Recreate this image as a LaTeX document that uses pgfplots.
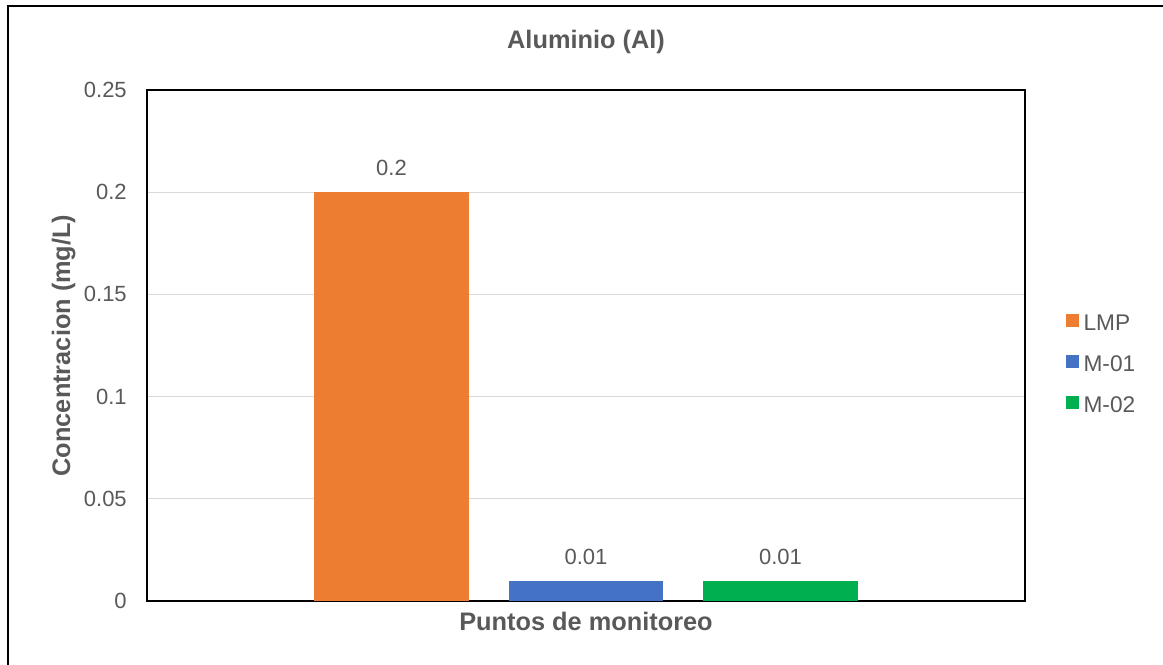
\documentclass[border=0pt]{standalone}
\usepackage{pgfplots}
\pgfplotsset{compat=1.18}
\usepackage{fontspec}
\setmainfont{Liberation Sans}
\definecolor{txt}{HTML}{595959}
\definecolor{grd}{HTML}{D9D9D9}
\definecolor{cLMP}{HTML}{ED7D31}
\definecolor{cM1}{HTML}{4472C4}
\definecolor{cM2}{HTML}{00B050}
\begin{document}
\begin{tikzpicture}
\useasboundingbox (0pt,0pt) rectangle (872.25pt,498pt);
\draw[line width=1.5pt, black] (6pt,-2pt) -- (6pt,493.5pt) -- (875pt,493.5pt);
\begin{axis}[
  at={(110.25pt,47.25pt)}, anchor=south west,
  scale only axis, width=658.5pt, height=383.25pt,
  xmin=-0.257, xmax=4.257, ymin=0, ymax=0.25,
  xtick=\empty,
  ytick={0,0.05,0.1,0.15,0.2,0.25},
  scaled y ticks=false,
  major tick length=0pt,
  ymajorgrids, grid style={grd, line width=0.75pt},
  axis line style={black, line width=1.5pt},
  /pgf/number format/assume math mode=true,
  yticklabel style={font=\fontsize{16.5}{19}\selectfont, text=txt, inner sep=0pt, anchor=east, xshift=-15pt,
    /pgf/number format/fixed, /pgf/number format/precision=2},
  bar width=0.792, 
  nodes near coords,
  nodes near coords style={font=\fontsize{16.5}{19}\selectfont, text=txt, anchor=south, inner sep=0pt, yshift=12pt,
    /pgf/number format/fixed, /pgf/number format/precision=2},
  legend style={at={(1.0467,0.5616)}, anchor=north west, draw=none, fill=none, inner sep=0pt,
    font=\fontsize{17}{19}\selectfont, text=txt, row sep=18.3pt,
    nodes={inner sep=0pt, text height=12pt, text depth=0pt}},
  legend cell align=left,
  legend image code/.code={\fill[#1, draw=none] (0pt,-3.5pt) rectangle (9.75pt,6.25pt); \path (13pt,0pt);},
]
\addplot[ybar, bar shift=0pt, fill=cLMP, draw=none] coordinates {(1,0.2)};
\addlegendentry{LMP}
\addplot[ybar, bar shift=0pt, fill=cM1, draw=none] coordinates {(2,0.01)};
\addlegendentry{M-01}
\addplot[ybar, bar shift=0pt, fill=cM2, draw=none] coordinates {(3,0.01)};
\addlegendentry{M-02}
\end{axis}
\node[anchor=base, font=\bfseries\fontsize{19}{23}\selectfont, text=txt, inner sep=0pt] at (439.5pt,461.25pt) {Aluminio (Al)};
\node[anchor=base, font=\bfseries\fontsize{19}{23}\selectfont, text=txt, inner sep=0pt] at (439.5pt,25.5pt) {Puntos de monitoreo};
\node[anchor=base, rotate=90, font=\bfseries\fontsize{19}{23}\selectfont, text=txt, inner sep=0pt] at (52.5pt,238.9pt) {Concentracion (mg/L)};
\end{tikzpicture}
\end{document}
